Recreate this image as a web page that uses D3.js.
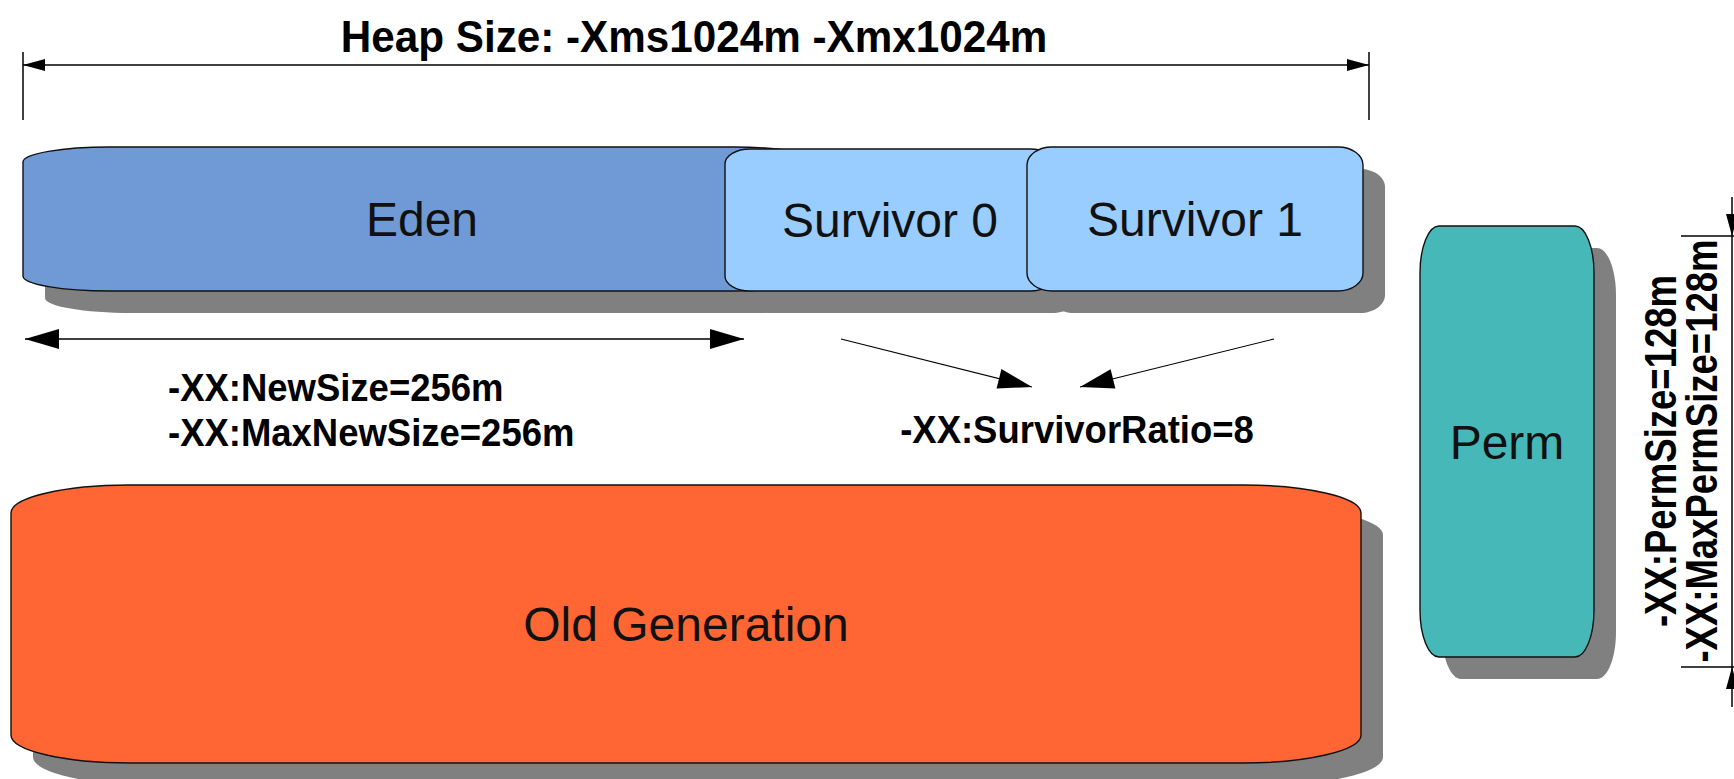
<!DOCTYPE html>
<html>
<head>
<meta charset="utf-8">
<script src="https://cdn.jsdelivr.net/npm/d3@7/dist/d3.min.js"></script>
<style>
  html, body { margin: 0; padding: 0; background: #fff; overflow: hidden; }
</style>
</head>
<body>
<div id="schema"></div>
<script>
// HEAP JVM — schéma des générations mémoire

// Données
const espaces        = ["Eden", "Survivor 0", "Survivor 1", "Old Generation", "Perm"];
const optionsHeap    = ["-Xms1024m", "-Xmx1024m"];
const optionsNew     = ["-XX:NewSize=256m", "-XX:MaxNewSize=256m"];
const optionsRatio   = ["-XX:SurvivorRatio=8"];
const optionsPerm    = ["-XX:PermSize=128m", "-XX:MaxPermSize=128m"];

// Mise en page (px)
const largeur = 1734, hauteur = 779;
const cadres = {                       // x, y, largeur, hauteur, rayon x, rayon y
    "Eden":           [23, 147, 798, 144, 87, 15],
    "Survivor 0":     [725, 149, 330, 142, 25, 15],
    "Survivor 1":     [1027, 147, 336, 144, 25, 18],
    "Old Generation": [11, 485, 1350, 278, 118, 28],
    "Perm":           [1420, 226, 174, 431, 19, 47]
};
const couleurs = {
    "Eden": "#709ad6", "Survivor 0": "#99ccff", "Survivor 1": "#99ccff",
    "Old Generation": "#ff6633", "Perm": "#47b8b8"
};
const OMBRE = 22;
const POLICE = "'Liberation Sans', Arial, Helvetica, sans-serif";

const svg = d3.select("#schema").append("svg")
    .attr("width", largeur).attr("height", hauteur);

// Rectangle à coins elliptiques
function forme(x, y, w, h, rx, ry) {
    const k = 0.5523, p = d3.path();
    p.moveTo(x + rx, y);
    p.lineTo(x + w - rx, y);
    p.bezierCurveTo(x + w - rx + k * rx, y, x + w, y + ry - k * ry, x + w, y + ry);
    p.lineTo(x + w, y + h - ry);
    p.bezierCurveTo(x + w, y + h - ry + k * ry, x + w - rx + k * rx, y + h, x + w - rx, y + h);
    p.lineTo(x + rx, y + h);
    p.bezierCurveTo(x + rx - k * rx, y + h, x, y + h - ry + k * ry, x, y + h - ry);
    p.lineTo(x, y + ry);
    p.bezierCurveTo(x, y + ry - k * ry, x + rx - k * rx, y, x + rx, y);
    p.closePath();
    return p.toString();
}

// Pointe de flèche (triangle plein) en (x2, y2)
function pointe(x1, y1, x2, y2, long, demi) {
    const a = Math.atan2(y2 - y1, x2 - x1);
    const bx = x2 - long * Math.cos(a), by = y2 - long * Math.sin(a);
    const nx = -Math.sin(a) * demi, ny = Math.cos(a) * demi;
    return [[x2, y2], [bx + nx, by + ny], [bx - nx, by - ny]];
}
const ligne = d3.line();

function fleche(g, x1, y1, x2, y2, opts) {
    const o = Object.assign({ long: 34, demi: 10, epais: 1.5, deux: false }, opts);
    g.append("line")
        .attr("x1", x1).attr("y1", y1).attr("x2", x2).attr("y2", y2)
        .attr("stroke", "#000").attr("stroke-width", o.epais);
    g.append("path").attr("d", ligne(pointe(x1, y1, x2, y2, o.long, o.demi)) + "Z").attr("fill", "#000");
    if (o.deux)
        g.append("path").attr("d", ligne(pointe(x2, y2, x1, y1, o.long, o.demi)) + "Z").attr("fill", "#000");
}

// Texte gras multiligne (un seul élément, une ligne par tspan)
function etiquette(g, lignes, transform, ancre, taille) {
    const t = g.append("text")
        .attr("transform", transform)
        .attr("text-anchor", ancre)
        .style("font-family", POLICE).style("font-size", taille + "px").style("font-weight", "bold");
    t.selectAll("tspan").data(lignes).join("tspan")
        .attr("x", 0)
        .text(d => d);
    return t;
}

// Couche 1 — ombres
const gOmbres = svg.append("g").attr("transform", `translate(${OMBRE},${OMBRE})`);
gOmbres.selectAll("path").data(espaces).join("path")
    .attr("d", d => forme(...cadres[d]))
    .attr("fill", "#808080");

// Couche 2 — espaces mémoire
const gEspaces = svg.append("g");
gEspaces.selectAll("path").data(espaces).join("path")
    .attr("d", d => forme(...cadres[d]))
    .attr("fill", d => couleurs[d])
    .attr("stroke", "#111").attr("stroke-width", 1.4);

gEspaces.selectAll("text").data(espaces).join("text")
    .attr("x", d => cadres[d][0] + cadres[d][2] / 2)
    .attr("y", d => cadres[d][1] + cadres[d][3] / 2 + 17)
    .attr("text-anchor", "middle")
    .style("font-family", POLICE).style("font-size", "48px").attr("fill", "#111")
    .text(d => d);

// Couche 3 — cotes et flèches
const gCotes = svg.append("g");

// Cote Heap
const heap = { y: 65, x0: 23, x1: 1369, t0: 52, t1: 120 };
[heap.x0, heap.x1].forEach(x =>
    gCotes.append("line").attr("x1", x).attr("x2", x).attr("y1", heap.t0).attr("y2", heap.t1)
        .attr("stroke", "#000").attr("stroke-width", 1.5));
fleche(gCotes, heap.x0, heap.y, heap.x1, heap.y, { long: 22, demi: 6, deux: true });

gCotes.append("text")
    .attr("transform", "translate(694,52) scale(0.96,1)")
    .attr("text-anchor", "middle")
    .style("font-family", POLICE).style("font-size", "44px").style("font-weight", "bold")
    .text("Heap Size: " + optionsHeap.join(" "));

// Young : NewSize
fleche(gCotes, 25, 339, 744, 339, { deux: true });
etiquette(gCotes, optionsNew, "translate(168,401) scale(0.96,1)", "start", 38)
    .selectAll("tspan").attr("y", (d, i) => i * 45);

// Survivors : SurvivorRatio
fleche(gCotes, 841, 339, 1032, 387, { epais: 1.2 });
fleche(gCotes, 1274, 339, 1080, 387, { epais: 1.2 });
etiquette(gCotes, optionsRatio, "translate(1077,443) scale(0.96,1)", "middle", 38);

// Cote Perm (verticale, au bord droit)
const perm = { x: 1732, y0: 197, y1: 707, t0: 236, t1: 667, tx: 1681 };
gCotes.append("line").attr("x1", perm.x).attr("x2", perm.x).attr("y1", perm.y0).attr("y2", perm.y1)
    .attr("stroke", "#000").attr("stroke-width", 1.5);
[perm.t0, perm.t1].forEach(y =>
    gCotes.append("line").attr("x1", perm.tx).attr("x2", largeur).attr("y1", y).attr("y2", y)
        .attr("stroke", "#000").attr("stroke-width", 1.5));
gCotes.append("path").attr("d", ligne(pointe(perm.x, perm.y0, perm.x, perm.t0, 22, 6)) + "Z");
gCotes.append("path").attr("d", ligne(pointe(perm.x, perm.y1, perm.x, perm.t1, 22, 6)) + "Z");

etiquette(gCotes, optionsPerm, "translate(1676,451) rotate(-90) scale(0.83,1)", "middle", 44)
    .selectAll("tspan").attr("y", (d, i) => i * 41);
</script>
</body>
</html>
